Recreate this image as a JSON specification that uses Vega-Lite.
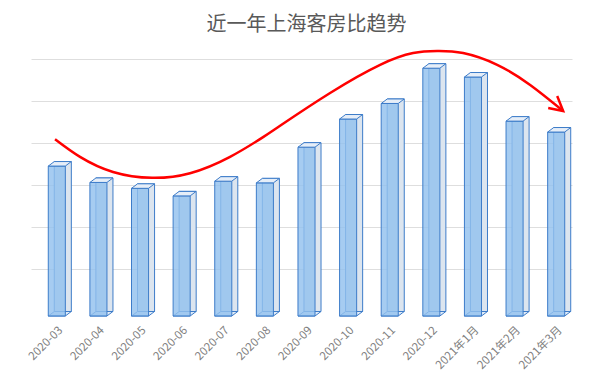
{
  "$schema": "https://vega.github.io/schema/vega-lite/v6.json",
  "autosize": {"type": "none"},
  "width": 541,
  "height": 252,
  "padding": {"left": 36, "top": 64, "right": 36, "bottom": 72},
  "background": "white",
  "title": {
    "text": "近一年上海客房比趋势",
    "font": "Noto Sans CJK SC",
    "fontSize": 20,
    "fontWeight": "normal",
    "color": "#595959",
    "anchor": "middle",
    "frame": "group",
    "offset": 11
  },
  "config": {
    "view": {"stroke": null},
    "font": "Noto Sans CJK SC"
  },
  "datasets": {
    "bars": [
      {"month": "2020-03", "ratio": 35.7},
      {"month": "2020-04", "ratio": 31.8},
      {"month": "2020-05", "ratio": 30.4},
      {"month": "2020-06", "ratio": 28.6},
      {"month": "2020-07", "ratio": 32.1},
      {"month": "2020-08", "ratio": 31.7},
      {"month": "2020-09", "ratio": 40.2},
      {"month": "2020-10", "ratio": 46.9},
      {"month": "2020-11", "ratio": 50.6},
      {"month": "2020-12", "ratio": 59.0},
      {"month": "2021年1月", "ratio": 56.9},
      {"month": "2021年2月", "ratio": 46.4},
      {"month": "2021年3月", "ratio": 43.8}
    ],
    "trend": [
      {"t": 0.457, "v": 42.1},
      {"t": 1.058, "v": 37.9},
      {"t": 1.851, "v": 34.3},
      {"t": 2.788, "v": 32.9},
      {"t": 3.702, "v": 34.0},
      {"t": 4.663, "v": 37.9},
      {"t": 5.457, "v": 42.6},
      {"t": 5.865, "v": 45.3},
      {"t": 7.067, "v": 53.1},
      {"t": 8.269, "v": 59.8},
      {"t": 9.063, "v": 62.6},
      {"t": 9.639, "v": 63.1},
      {"t": 10.264, "v": 62.6},
      {"t": 11.082, "v": 59.8},
      {"t": 11.875, "v": 55.0},
      {"t": 12.668, "v": 48.8}
    ],
    "arrowhead": [
      {"seq": 1, "t": 12.524, "v": 52.4},
      {"seq": 2, "t": 12.668, "v": 48.8},
      {"seq": 3, "t": 12.308, "v": 49.5}
    ]
  },
  "resolve": {"scale": {"x": "independent"}, "axis": {"x": "independent"}},
  "layer": [
    {
      "mark": {"type": "rect", "fill": "#EFEFEF"},
      "encoding": {
        "x": {"datum": -0.15, "type": "quantitative", "scale": {"domain": [0, 13]}, "axis": null},
        "x2": {"datum": 13.2},
        "y": {"datum": -0.7, "type": "quantitative", "scale": {"domain": [0, 60]},
          "axis": {"title": null, "labels": false, "ticks": false, "domain": false, "grid": true,
            "values": [10, 20, 30, 40, 50, 60], "gridColor": "#DEDEDE", "gridWidth": 1, "translate": -4.5}},
        "y2": {"datum": 1.9}
      }
    },
    {
      "data": {"name": "bars"},
      "layer": [
        {
          "mark": {"type": "bar", "fill": "#DCE5EF", "stroke": "#3D7CC9", "strokeWidth": 1, "xOffset": 6, "yOffset": -4.5},
          "encoding": {
            "x": {"field": "month", "type": "nominal", "sort": null,
              "scale": {"paddingInner": 0.59, "paddingOuter": 0.295},
              "axis": {"title": null, "labelAngle": -45, "labelFontSize": 11.5, "labelColor": "#7F7F7F",
                "ticks": false, "domain": false, "labelPadding": 8, "labelFont": "Noto Sans CJK SC"}},
            "y": {"field": "ratio", "type": "quantitative"}
          }
        },
        {
          "mark": {"type": "point", "filled": true, "opacity": 1, "fill": "#D8E6F5", "fillOpacity": 0.8, "stroke": "#3D7CC9", "strokeWidth": 1, "size": 400,
            "shape": "M -0.85 0 L 0.85 0 L 1.45 -0.45 L -0.25 -0.45 Z"},
          "encoding": {
            "x": {"field": "month", "type": "nominal", "sort": null},
            "y": {"datum": 0}
          }
        },
        {
          "mark": {"type": "bar", "fill": "#93C1EE", "fillOpacity": 0.82, "stroke": "#3D7CC9", "strokeWidth": 1},
          "encoding": {
            "x": {"field": "month", "type": "nominal", "sort": null},
            "y": {"field": "ratio", "type": "quantitative"}
          }
        },
        {
          "mark": {"type": "point", "filled": true, "opacity": 1, "fill": "#E6EEF8", "stroke": "#3D7CC9", "strokeWidth": 1, "size": 400,
            "shape": "M -0.85 0 L 0.85 0 L 1.45 -0.45 L -0.25 -0.45 Z"},
          "encoding": {
            "x": {"field": "month", "type": "nominal", "sort": null},
            "y": {"field": "ratio", "type": "quantitative"}
          }
        }
      ]
    },
    {
      "data": {"name": "trend"},
      "mark": {"type": "line", "color": "#FF0000", "strokeWidth": 2.5, "interpolate": "natural"},
      "encoding": {
        "x": {"field": "t", "type": "quantitative", "scale": {"domain": [0, 13]}, "axis": null},
        "y": {"field": "v", "type": "quantitative"}
      }
    },
    {
      "data": {"name": "arrowhead"},
      "mark": {"type": "line", "color": "#FF0000", "strokeWidth": 2.5, "strokeJoin": "miter"},
      "encoding": {
        "x": {"field": "t", "type": "quantitative", "scale": {"domain": [0, 13]}, "axis": null},
        "y": {"field": "v", "type": "quantitative"},
        "order": {"field": "seq"}
      }
    }
  ]
}
